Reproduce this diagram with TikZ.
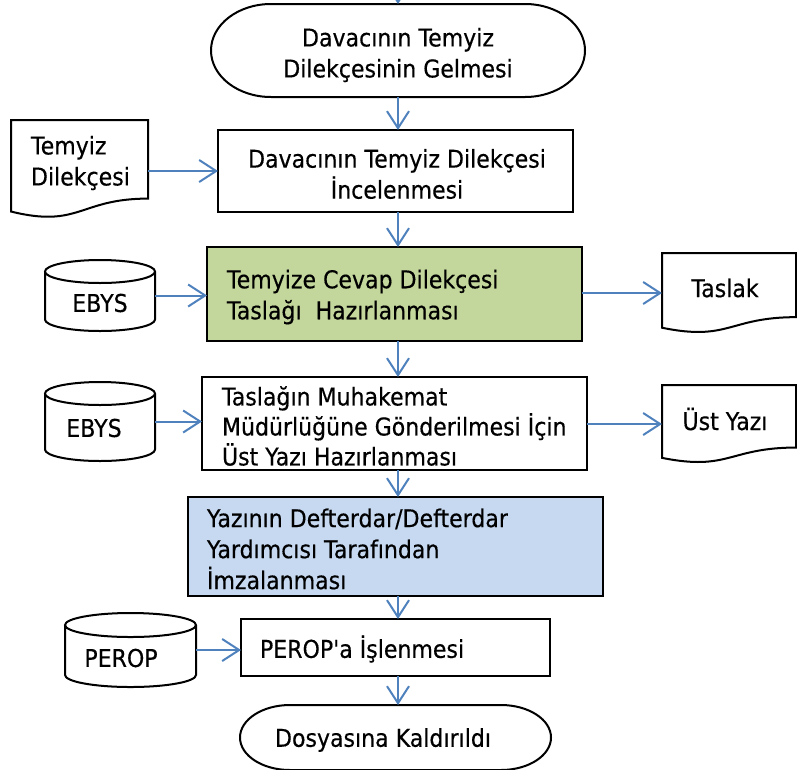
\documentclass[tikz,border=0pt]{standalone}
\usepackage{fontspec}
\newfontfamily\diagfont{DejaVu Sans}[FakeStretch=0.9,FakeBold=0.4]
\usetikzlibrary{arrows.meta,calc}
\definecolor{arrowblue}{HTML}{4F81BD}
\definecolor{boxgreen}{HTML}{C3D69B}
\definecolor{boxblue}{HTML}{C6D9F1}
\newcommand\cylout[2]{%
  \draw[outl] let \p1=(#1.north west), \p2=(#1.south east), \n1={(\x2-\x1)/2} in
    (\x1,{\y1-#2}) -- (\x1,{\y2+#2})
    arc[start angle=180,end angle=360,x radius={\n1*1pt},y radius=#2]
    -- (\x2,{\y1-#2})
    ({(\x1+\x2)/2},{\y1-#2}) ellipse[x radius={\n1*1pt},y radius=#2];}
\newcommand\docout[1]{%
  \draw[outl] let \p1=(#1.north west), \p2=(#1.south east) in
    (\x1,\y1) -- (\x2,\y1) -- (\x2,{\y1+0.802*(\y2-\y1)})
    .. controls ({(\x1+\x2)/2},{\y1+0.802*(\y2-\y1)}) and ({(\x1+\x2)/2},{\y1+1.107*(\y2-\y1)}) ..
    (\x1,{\y1+0.934*(\y2-\y1)}) -- cycle;}
\newcommand\termout[2]{%
  \draw[outl] let \p1=(#1.north west), \p2=(#1.south east), \n1={(\y1-\y2)/2} in
    ({\x1+#2},\y1) -- ({\x2-#2},\y1)
    arc[start angle=90,end angle=-90,x radius=#2,y radius={\n1*1pt}]
    -- ({\x1+#2},\y2)
    arc[start angle=270,end angle=90,x radius=#2,y radius={\n1*1pt}] -- cycle;}
\begin{document}
\begin{tikzpicture}[x=1pt,y=-1pt,
  every node/.style={font=\diagfont\fontsize{24.5}{31}\selectfont},
  outl/.style={draw=black,line width=2pt},
  shp/.style={rectangle,inner sep=0pt,outer sep=0pt},
  procbox/.style={shp,outl},
  txt/.style={inner sep=0pt,outer sep=0pt},
  arr/.style={draw=arrowblue,line width=2pt,-{Straight Barb[length=17pt,width=22pt]}}]
\useasboundingbox (0,0) rectangle (797,769);
\coordinate (axis) at (398,0);
\coordinate (topin) at (398,-30);

% terminator 1
\node[shp,minimum width=374,minimum height=93] (term1) at (398,50.5) {};
\termout{term1}{60pt}
\node[txt,align=center] (term1t) at (398,55) {Davacının Temyiz\\Dilekçesinin Gelmesi};

% box 2
\node[procbox,minimum width=355,minimum height=82] (box2) at (395.5,171) {};
\node[txt,align=center] (box2t) at (397,174) {Davacının Temyiz Dilekçesi\\İncelenmesi};

% document 1
\node[shp,minimum width=137,minimum height=98] (doc1) at (79.5,169) {};
\docout{doc1}
\node[txt,anchor=west,align=left] (doc1t) at (31,163) {Temyiz\\Dilekçesi};

% box 3
\node[procbox,fill=boxgreen,minimum width=375,minimum height=94] (box3) at (394.5,294) {};
\node[txt,anchor=west,align=left] (box3t) at (227,297)
  {Temyize Cevap Dilekçesi\\Taslağı\ \ Hazırlanması};

% EBYS 1
\node[shp,minimum width=110,minimum height=71] (ebys1) at (100,295.5) {};
\cylout{ebys1}{11.5pt}
\node[txt] (ebys1t) at (100,303) {EBYS};

% Taslak
\node[shp,minimum width=134,minimum height=80] (taslak) at (729,293) {};
\docout{taslak}
\node[txt] (taslakt) at (725,288) {Taslak};

% box 4
\node[procbox,minimum width=385,minimum height=93] (box4) at (394.5,423.5) {};
\node[txt,anchor=west,align=left,font=\diagfont\fontsize{24.5}{30}\selectfont] (box4t) at (222,426)
  {Taslağın Muhakemat\\Müdürlüğüne Gönderilmesi İçin\\Üst Yazı Hazırlanması};

% EBYS 2
\node[shp,minimum width=110,minimum height=79] (ebys2) at (100,421.5) {};
\cylout{ebys2}{11.5pt}
\node[txt] (ebys2t) at (94,428) {EBYS};

% Üst Yazı
\node[shp,minimum width=134,minimum height=78] (ust) at (729,424) {};
\docout{ust}
\node[txt] (ustt) at (725,419) {Üst Yazı};

% box 5
\node[procbox,fill=boxblue,minimum width=415,minimum height=99] (box5) at (395.5,546.5) {};
\node[txt,anchor=west,align=left] (box5t) at (207,549)
  {Yazının Defterdar/Defterdar\\Yardımcısı Tarafından\\İmzalanması};

% box 6
\node[procbox,minimum width=309,minimum height=57] (box6) at (395.5,647.5) {};
\node[txt,anchor=west] (box6t) at (260,649) {PEROP'a İşlenmesi};

% PEROP
\node[shp,minimum width=131,minimum height=74] (perop) at (130.5,650) {};
\cylout{perop}{12pt}
\node[txt] (peropt) at (121,658) {PEROP};

% terminator 2
\node[shp,minimum width=311,minimum height=65] (term2) at (395.5,737.5) {};
\termout{term2}{50pt}
\node[txt] (term2t) at (383,740) {Dosyasına Kaldırıldı};

% connectors
\draw[arr] (topin) -- (term1.north -| axis);
\draw[arr] (term1.south -| axis) -- (box2.north -| axis);
\draw[arr] (doc1.east |- box2.west) -- (box2.west);
\draw[arr] (box2.south -| axis) -- (box3.north -| axis);
\draw[arr] (ebys1.east) -- (box3.west |- ebys1.east);
\draw[arr] (box3.east |- taslak.west) -- (taslak.west);
\draw[arr] (box3.south -| axis) -- (box4.north -| axis);
\draw[arr] (ebys2.east) -- (box4.west |- ebys2.east);
\draw[arr] (box4.east |- ust.west) -- (ust.west);
\draw[arr] (box4.south -| axis) -- (box5.north -| axis);
\draw[arr] (box5.south -| axis) -- (box6.north -| axis);
\draw[arr] (perop.east) -- (box6.west |- perop.east);
\draw[arr] (box6.south -| axis) -- (term2.north -| axis);
\end{tikzpicture}
\end{document}
